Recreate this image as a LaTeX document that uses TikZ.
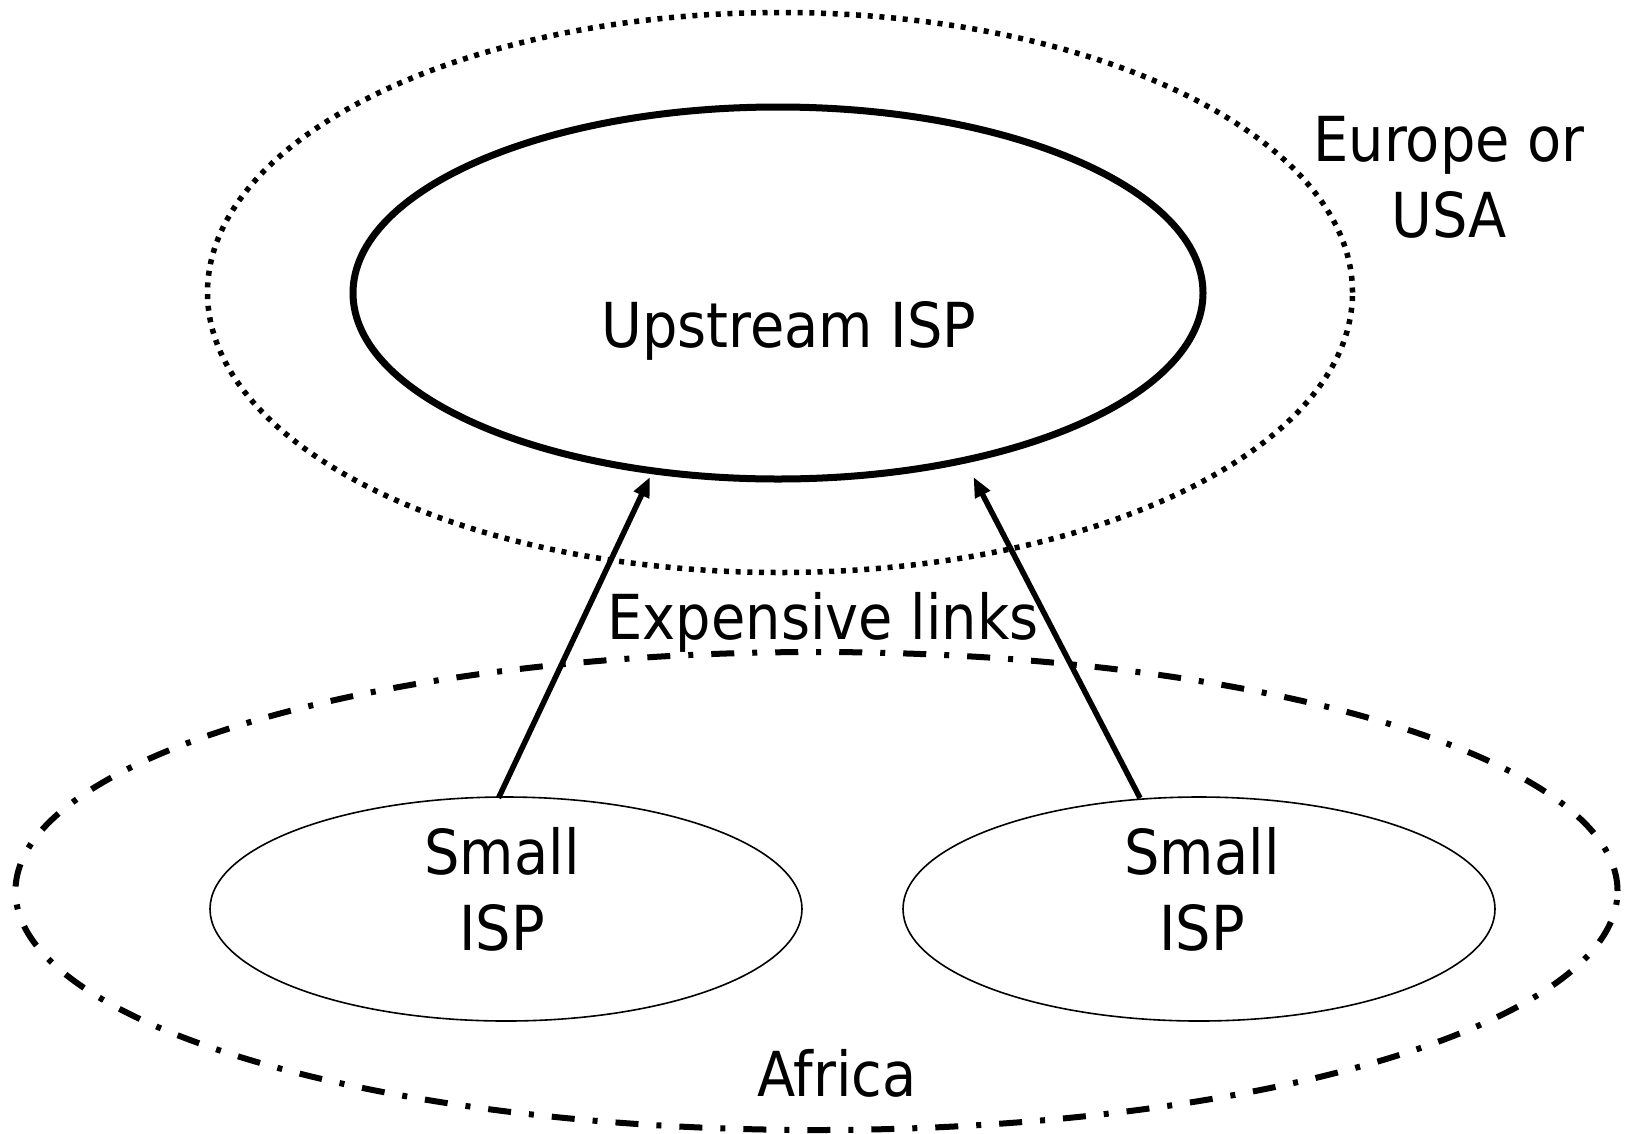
\documentclass[tikz,border=0pt]{standalone}
\usepackage{fontspec}
\setmainfont{DejaVu Sans}[FakeStretch=0.9]
\usetikzlibrary{shapes.geometric,arrows.meta}
\begin{document}
\begin{tikzpicture}[x=1pt,y=-1pt,
  lbl/.style={font=\fontsize{62}{76}\selectfont, inner sep=0pt, anchor=base, align=center},
  ell/.style={draw, ellipse, inner sep=0pt},
  link/.style={line width=5.5pt, -{Triangle[length=20pt,width=16pt]}}]
\useasboundingbox (0,0) rectangle (1629,1133);
% regions
\node[ell, line width=5.5pt, dash pattern=on 5pt off 6.7pt, minimum width=1145pt, minimum height=560pt] (eu) at (780,292.5) {};
\node[ell, line width=6pt, dash pattern=on 23pt off 18pt on 5pt off 18pt, minimum width=1602pt, minimum height=478pt] (af) at (816.5,891) {};
% ISPs
\node[ell, line width=7pt, minimum width=850pt, minimum height=372pt] (up) at (778,293) {};
\node[ell, line width=1.6pt, minimum width=592pt, minimum height=224pt] (sl) at (506,909) {};
\node[ell, line width=1.6pt, minimum width=592pt, minimum height=224pt] (sr) at (1199,909) {};
% labels
\node[lbl] (tup) at (789,347) {Upstream ISP};
\node[lbl] (teu) at (1449,237) {Europe or\\USA};
\node[lbl] (tex) at (823,639) {Expensive links};
\node[lbl] (taf) at (837,1096) {Africa};
\node[lbl] (tsl) at (502,950) {Small\\ISP};
\node[lbl] (tsr) at (1202,950) {Small\\ISP};
% links
\coordinate (s1) at (498.5,798);
\coordinate (e1) at (650,477);
\coordinate (s2) at (1140,798);
\coordinate (e2) at (973.5,477);
\draw[link] (s1) -- (e1);
\draw[link] (s2) -- (e2);
\end{tikzpicture}
\end{document}
